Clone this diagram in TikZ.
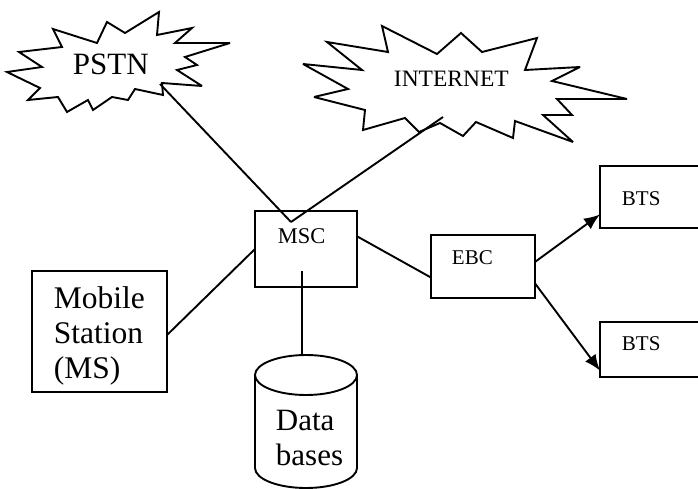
\documentclass[tikz,border=0pt]{standalone}
\usepackage{fontspec}
\setmainfont{Liberation Serif}
\usetikzlibrary{arrows.meta}
\begin{document}
\begin{tikzpicture}[x=1pt,y=-1pt,line width=1.9pt,
  box/.style={draw,rectangle,line width=1.9pt,inner sep=0pt,outer sep=0pt,anchor=north west},
  bigtxt/.style={font=\fontsize{31}{36}\selectfont,inner sep=0pt,anchor=base west},
  smalltxt/.style={font=\fontsize{22}{26}\selectfont,inner sep=0pt,anchor=base west},
  star/.style={draw,line width=1.9pt,line join=miter,miter limit=4,fill=white},
  link/.style={line width=1.9pt},
  arr/.style={line width=1.9pt,-{Latex[length=16pt,width=13pt]}}
]
\clip (0,0) rectangle (698,489);
\fill[white] (0,0) rectangle (698,489);

% clouds (stars)
\path[star] (53,29) -- (97,43) -- (107,22) -- (125,33) -- (159,12) -- (157,35) -- (192,28) -- (175,43) -- (230,43) -- (185,57) -- (197,65) -- (177,70) -- (202,86) -- (162,83) -- (163,95) -- (135,89) -- (128,100) -- (112,97) -- (93,110) -- (88,100) -- (67,112) -- (58,97) -- (28,100) -- (40,88) -- (7,72) -- (42,67) -- (19,52) -- (62,47) -- cycle;
\node[bigtxt,font=\fontsize{31}{36}\selectfont] (pstn) at (72,75) {PSTN};

\path[star] (382,26) -- (437,54) -- (461,33) -- (482,52) -- (537,38) -- (525,70) -- (580,67) -- (552,81) -- (627,99) -- (557,99) -- (572,115) -- (543,115) -- (573,142) -- (515,121) -- (513,138) -- (476,122) -- (463,136) -- (440,123) -- (419,132) -- (405,118) -- (363,130) -- (365,110) -- (314,97) -- (348,89) -- (303,64) -- (362,70) -- (327,42) -- (388,52) -- cycle;
\node[smalltxt,font=\fontsize{23.5}{27}\selectfont] (inet) at (393,87) {INTERNET};

\coordinate (pstnEnd) at (160,84);
\coordinate (inetEnd) at (443,117);
\coordinate (mscJ) at (291,222);
\coordinate (mscIn) at (302,271);
\coordinate (dbTop) at (302,355);

% boxes
\node[box,minimum width=102pt,minimum height=76pt] (msc) at (255,211) {};
\node[smalltxt,font=\fontsize{22.5}{26}\selectfont] (msct) at (277,243) {MSC};

\node[box,minimum width=135pt,minimum height=121pt] (ms) at (32,271) {};
\node[bigtxt,font=\fontsize{31.5}{36}\selectfont] (ms1) at (53,308) {Mobile};
\node[bigtxt,font=\fontsize{31.5}{36}\selectfont] (ms2) at (53,343) {Station};
\node[bigtxt,font=\fontsize{31.5}{36}\selectfont] (ms3) at (53,378) {(MS)};

\node[box,minimum width=104pt,minimum height=63pt] (ebc) at (431,235) {};
\node[smalltxt,font=\fontsize{21}{25}\selectfont] (ebct) at (451,264) {EBC};

\node[box,minimum width=130pt,minimum height=62pt] (bts1) at (600,166) {};
\node[smalltxt,font=\fontsize{21}{25}\selectfont] (bts1t) at (621,205) {BTS};
\node[box,minimum width=130pt,minimum height=55pt] (bts2) at (600,322) {};
\node[smalltxt,font=\fontsize{21}{25}\selectfont] (bts2t) at (621,350) {BTS};

% database cylinder
\draw (255,375) -- (255,468) arc[start angle=180,end angle=0,x radius=51,y radius=20] -- (357,375);
\draw (306,375) ellipse[x radius=51,y radius=20];
\node[bigtxt] (db1) at (275,430) {Data};
\node[bigtxt] (db2) at (275,465) {bases};

% connectors
\draw[link] (pstnEnd) -- (mscJ);
\draw[link] (inetEnd) -- (mscJ);
\draw[link] (msc.west) -- (ms.-3);
\draw[link] (msc.14) -- (ebc.192);
\draw[link] (mscIn) -- (dbTop);
\draw[arr] (ebc.5) -- (bts1.195);
\draw[arr] (ebc.-18) -- (bts2.198);
\end{tikzpicture}
\end{document}
